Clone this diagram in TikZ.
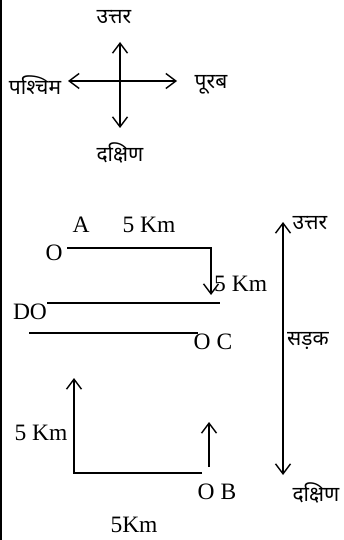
\documentclass[tikz,border=0pt]{standalone}
\usepackage{fontspec}
\setmainfont{Liberation Serif}
\newfontfamily\hindi[Script=Devanagari]{Noto Sans}
\usetikzlibrary{arrows.meta}

\tikzstyle{every node}=[inner sep=0pt, font=\fontsize{23.5}{25}\selectfont]
\tikzstyle{dirlabel}=[font=\hindi\fontsize{21}{24}\selectfont]
\tikzstyle{route}=[line width=1.4pt, >={Straight Barb[length=10pt,width=15pt]}]

\begin{document}
\begin{tikzpicture}[x=1pt, y=-1pt]
    \useasboundingbox (0,0) rectangle (344,540);
    \fill (0,0) rectangle (2.2,540);

    % compass
    \node [dirlabel] (north) at (114,17) {उत्तर};
    \node [dirlabel] (west) at (35,85) {पश्चिम};
    \node [dirlabel] (east) at (211,85) {पूरब};
    \node [dirlabel] (south) at (120,153) {दक्षिण};
    \coordinate (cN) at (120,42);
    \coordinate (cS) at (120,128);
    \coordinate (cW) at (68,81);
    \coordinate (cE) at (177,81);
    \draw [route, <->] (cS) -- (cN);
    \draw [route, <->] (cW) -- (cE);

    % walk
    \node (A) at (81,225) {A};
    \node (dAB) at (149,225) {5 Km};
    \node (O1) at (54,253) {O};
    \node [anchor=west] (dAC) at (214,284) {5 Km};
    \node (D) at (30,312) {DO};
    \node (C) at (213,342) {O C};
    \node (dBup) at (41,433) {5 Km};
    \node (B) at (217,492) {O B};
    \node (dB) at (134,525) {5Km};
    \coordinate (a1) at (67,248);
    \coordinate (a2) at (211,248);
    \coordinate (a3) at (211,295);
    \coordinate (d1) at (47,303);
    \coordinate (d2) at (220,303);
    \coordinate (c1) at (29,333);
    \coordinate (c2) at (198,333);
    \coordinate (b1) at (202,473);
    \coordinate (b2) at (74,473);
    \coordinate (b3) at (74,378);
    \coordinate (e1) at (209,467);
    \coordinate (e2) at (209,422);
    \draw [route, ->] (a1) -- (a2) -- (a3);
    \draw [route] (d1) -- (d2);
    \draw [route] (c1) -- (c2);
    \draw [route, ->] (b1) -- (b2) -- (b3);
    \draw [route, ->] (e1) -- (e2);

    % road
    \node [dirlabel] (rN) at (310,223) {उत्तर};
    \node [dirlabel] (road) at (308,341) {सड़क};
    \node [dirlabel] (rS) at (316,493) {दक्षिण};
    \coordinate (r1) at (283,222);
    \coordinate (r2) at (283,475);
    \draw [route, <->] (r1) -- (r2);
\end{tikzpicture}
\end{document}
